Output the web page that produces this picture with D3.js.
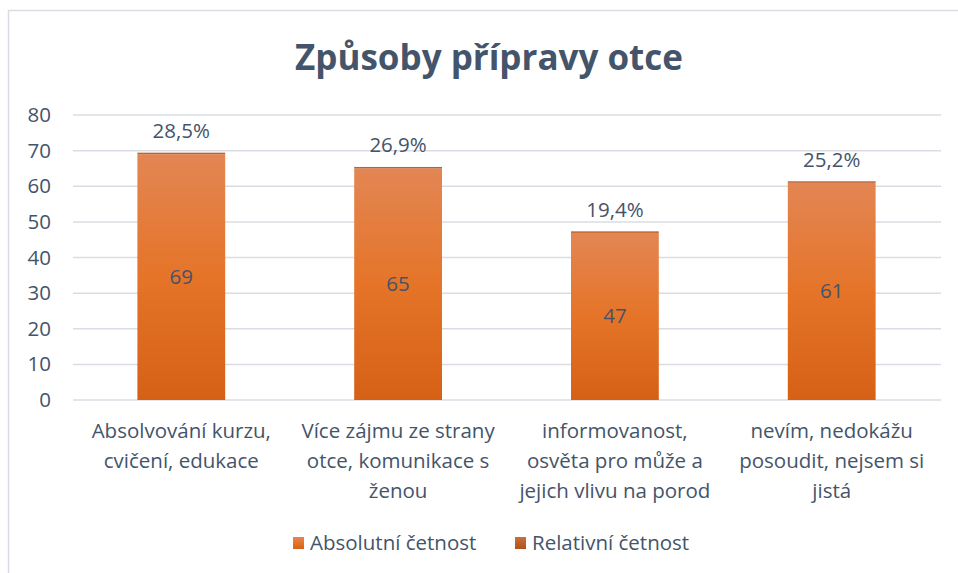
<!DOCTYPE html>
<html>
<head>
<meta charset="utf-8">
<script src="https://cdn.jsdelivr.net/npm/d3@7"></script>
<style>
  html, body { margin: 0; padding: 0; background: #fff; }
  svg { display: block; font-family: "Open Sans", Lato, sans-serif; }
</style>
</head>
<body>
<svg id="chart" width="958" height="573"></svg>
<script>
// ---- data ----
const title = "Způsoby přípravy otce";
const categories = [
  "Absolvování kurzu, cvičení, edukace",
  "Více zájmu ze strany otce, komunikace s ženou",
  "informovanost, osvěta pro může a jejich vlivu na porod",
  "nevím, nedokážu posoudit, nejsem si jistá"
];
const categoryLines = [
  ["Absolvování kurzu,", "cvičení, edukace"],
  ["Více zájmu ze strany", "otce, komunikace s", "ženou"],
  ["informovanost,", "osvěta pro může a", "jejich vlivu na porod"],
  ["nevím, nedokážu", "posoudit, nejsem si", "jistá"]
];
const absolute = [69, 65, 47, 61];
const relative = [0.285, 0.269, 0.194, 0.252];
const relativeLabels = ["28,5%", "26,9%", "19,4%", "25,2%"];
const yTicks = [0, 10, 20, 30, 40, 50, 60, 70, 80];
const seriesNames = ["Absolutní četnost", "Relativní četnost"];

// ---- setup ----
const svg = d3.select("#chart");
const textColor = "#44546A";
const gridColor = "#D9DDE3";
const fontFam = "'Open Sans', Lato, sans-serif";
const fs = 20.5;

const defs = svg.append("defs");
const g1 = defs.append("linearGradient").attr("id", "gAbs").attr("x1", 0).attr("y1", 0).attr("x2", 0).attr("y2", 1);
g1.append("stop").attr("offset", "0%").attr("stop-color", "#E38654");
g1.append("stop").attr("offset", "50%").attr("stop-color", "#E57428");
g1.append("stop").attr("offset", "100%").attr("stop-color", "#D56116");
const g2 = defs.append("linearGradient").attr("id", "gRel").attr("x1", 0).attr("y1", 0).attr("x2", 0).attr("y2", 1);
g2.append("stop").attr("offset", "0%").attr("stop-color", "#C8703C");
g2.append("stop").attr("offset", "100%").attr("stop-color", "#B0531A");

// chart border (top & left visible)
svg.append("path")
  .attr("d", "M8.5,573 L8.5,10.5 L958,10.5")
  .attr("fill", "none").attr("stroke", "#D9DDE3").attr("stroke-width", 1.5);

// title
svg.append("text")
  .attr("x", 489).attr("y", 70)
  .attr("text-anchor", "middle")
  .attr("font-size", 35).attr("font-weight", 700)
  .attr("fill", textColor)
  .text(title);

const x = d3.scaleBand().domain(categories).range([73, 940]).paddingInner(0.595).paddingOuter(0.297);
const y = d3.scaleLinear().domain([0, 80]).range([400, 115]);

// gridlines
svg.append("g").selectAll("line").data(yTicks).join("line")
  .attr("x1", 73).attr("x2", 941)
  .attr("y1", d => y(d)).attr("y2", d => y(d))
  .attr("stroke", gridColor).attr("stroke-width", 1.5);

// y axis labels
const yAxis = d3.axisLeft(y).tickValues(yTicks).tickSize(0).tickPadding(0);
const ya = svg.append("g").attr("transform", "translate(51,0)").call(yAxis);
ya.select(".domain").remove();
ya.selectAll("text").attr("font-size", fs).attr("fill", textColor).attr("font-family", fontFam);

// bars
const bars = svg.append("g");
bars.selectAll("rect.abs").data(absolute).join("rect")
  .attr("class", "abs")
  .attr("x", (d, i) => x(categories[i]))
  .attr("width", x.bandwidth())
  .attr("y", d => y(d))
  .attr("height", d => y(0) - y(d))
  .attr("fill", "url(#gAbs)");
bars.selectAll("rect.rel").data(relative).join("rect")
  .attr("class", "rel")
  .attr("x", (d, i) => x(categories[i]))
  .attr("width", x.bandwidth())
  .attr("y", (d, i) => y(absolute[i] + d) - 0.5)
  .attr("height", (d, i) => Math.max(1.5, y(absolute[i]) - y(absolute[i] + d)))
  .attr("fill", "#C0612A");

// value labels in bars
svg.append("g").selectAll("text").data(absolute).join("text")
  .attr("x", (d, i) => x(categories[i]) + x.bandwidth() / 2)
  .attr("y", d => (y(d) + y(0)) / 2 + 7)
  .attr("text-anchor", "middle")
  .attr("font-size", fs).attr("fill", textColor)
  .text(d => d);

// relative labels above bars
svg.append("g").selectAll("text").data(relative).join("text")
  .attr("x", (d, i) => x(categories[i]) + x.bandwidth() / 2)
  .attr("y", (d, i) => y(absolute[i] + d) - 15)
  .attr("text-anchor", "middle")
  .attr("font-size", fs).attr("fill", textColor)
  .text((d, i) => relativeLabels[i]);

// category labels
const cg = svg.append("g");
categoryLines.forEach((lines, i) => {
  const cx = x(categories[i]) + x.bandwidth() / 2;
  const t = cg.append("text")
    .attr("text-anchor", "middle")
    .attr("font-size", fs).attr("fill", textColor);
  lines.forEach((ln, j) => {
    t.append("tspan").attr("x", cx).attr("y", 438 + j * 30).text(ln);
  });
});

// legend
const legend = svg.append("g");
const legendItems = [
  { name: seriesNames[0], fill: "url(#gAbs)", x: 293 },
  { name: seriesNames[1], fill: "url(#gRel)", x: 515 }
];
legendItems.forEach(it => {
  legend.append("rect").attr("x", it.x).attr("y", 537).attr("width", 11).attr("height", 12).attr("fill", it.fill);
  legend.append("text").attr("x", it.x + 17).attr("y", 550)
    .attr("font-size", fs).attr("fill", textColor).text(it.name);
});
</script>
</body>
</html>
